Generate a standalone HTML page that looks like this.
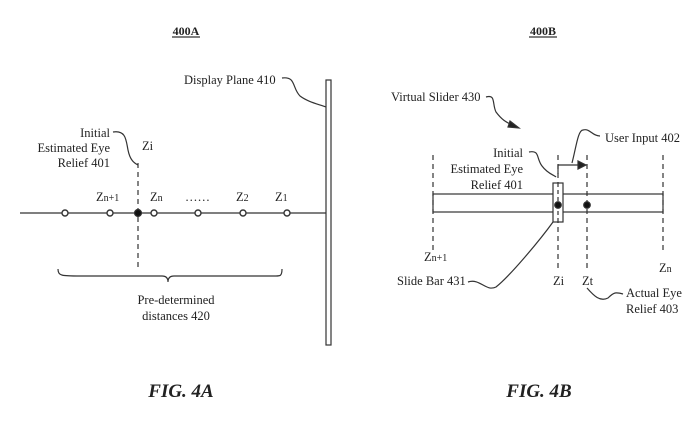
<!DOCTYPE html>
<html><head><meta charset="utf-8"><style>
html,body{margin:0;padding:0;background:#fff;}
svg{display:block;font-family:"Liberation Serif",serif;}
text{font-size:12.5px;fill:#222;}
</style></head><body>
<svg width="700" height="438" viewBox="0 0 700 438" xmlns="http://www.w3.org/2000/svg">
<g stroke="#333" fill="none" stroke-width="1.2">
<line x1="172" y1="37" x2="200" y2="37"/>
<line x1="529" y1="37" x2="557" y2="37"/>
<line x1="20" y1="213" x2="326" y2="213"/>
<rect x="326" y="80" width="5" height="265"/>
<line x1="138" y1="163" x2="138" y2="270" stroke-dasharray="5,4"/>
<path d="M113,132 C126,130 126,140 128,150 C130,160 134,163 138,165"/>
<path d="M282,78 C296,76 292,88 300,96 C308,102 318,104 326,107"/>
<path d="M58,269 C58,276 62,276 80,276 L162,276 C166,276 168,278 168,282 C168,278 170,276 174,276 L276,276 C280,276 282,276 282,269"/>
<g stroke-width="1.4" fill="#fff">
<circle cx="65" cy="213" r="3"/><circle cx="110" cy="213" r="3"/><circle cx="154" cy="213" r="3"/>
<circle cx="198" cy="213" r="3"/><circle cx="243" cy="213" r="3"/><circle cx="287" cy="213" r="3"/>
</g>
<circle cx="138" cy="213" r="3.5" fill="#111"/>
<rect x="433" y="194" width="230" height="18"/>
<g stroke-dasharray="5,4">
<line x1="433" y1="155" x2="433" y2="252"/>
<line x1="558" y1="155" x2="558" y2="270"/>
<line x1="587" y1="155" x2="587" y2="270"/>
<line x1="663" y1="155" x2="663" y2="252"/>
</g>
<rect x="553" y="183" width="10" height="39" fill="#fff"/>
<line x1="558" y1="183" x2="558" y2="222" stroke-dasharray="4,3"/>
<circle cx="558" cy="205" r="3.3" fill="#111"/>
<circle cx="587" cy="205" r="3.3" fill="#111"/>
<line x1="558" y1="174" x2="558" y2="165"/>
<line x1="558" y1="165" x2="580" y2="165"/>
<path d="M586,165 L578,161 L578,169 Z" fill="#222"/>
<path d="M572,163 C576,148 578,130 583,130 C590,128 592,136 600,136"/>
<path d="M486,97 C496,94 492,104 496,112 C502,120 506,122 512,125"/>
<path d="M519,128 L510,121 L508,127 Z" fill="#222"/>
<path d="M529,152 C540,150 536,158 542,166 C548,174 554,175 556,177"/>
<path d="M468,282 C480,278 486,292 496,287 C510,276 540,240 553,222"/>
<path d="M587,288 C594,296 600,302 608,298 C614,292 616,292 623,294"/>
</g>
<g>
<text x="186" y="35" text-anchor="middle" font-weight="bold" style="font-size:12px">400A</text>
<text x="543" y="35" text-anchor="middle" font-weight="bold" style="font-size:12px">400B</text>
<text x="184" y="84">Display Plane 410</text>
<text x="110" y="137" text-anchor="end">Initial</text>
<text x="110" y="152" text-anchor="end">Estimated Eye</text>
<text x="110" y="167" text-anchor="end">Relief 401</text>
<text x="142" y="150">Zi</text>
<text x="96" y="201">Z<tspan style="font-size:10px">n+1</tspan></text>
<text x="150" y="201">Z<tspan style="font-size:10px">n</tspan></text>
<text x="185" y="201">……</text>
<text x="236" y="201">Z<tspan style="font-size:10px">2</tspan></text>
<text x="275" y="201">Z<tspan style="font-size:10px">1</tspan></text>
<text x="176" y="304" text-anchor="middle">Pre-determined</text>
<text x="176" y="320" text-anchor="middle">distances 420</text>
<text x="391" y="101">Virtual Slider 430</text>
<text x="605" y="142">User Input 402</text>
<text x="523" y="157" text-anchor="end">Initial</text>
<text x="523" y="173" text-anchor="end">Estimated Eye</text>
<text x="523" y="189" text-anchor="end">Relief 401</text>
<text x="424" y="261">Z<tspan style="font-size:10px">n+1</tspan></text>
<text x="659" y="272">Z<tspan style="font-size:10px">n</tspan></text>
<text x="553" y="285">Zi</text>
<text x="582" y="285">Zt</text>
<text x="397" y="285">Slide Bar 431</text>
<text x="626" y="297">Actual Eye</text>
<text x="626" y="313">Relief 403</text>
<text x="181" y="397" text-anchor="middle" font-weight="bold" font-style="italic" style="font-size:19px">FIG. 4A</text>
<text x="539" y="397" text-anchor="middle" font-weight="bold" font-style="italic" style="font-size:19px">FIG. 4B</text>
</g>
</svg>
</body></html>
